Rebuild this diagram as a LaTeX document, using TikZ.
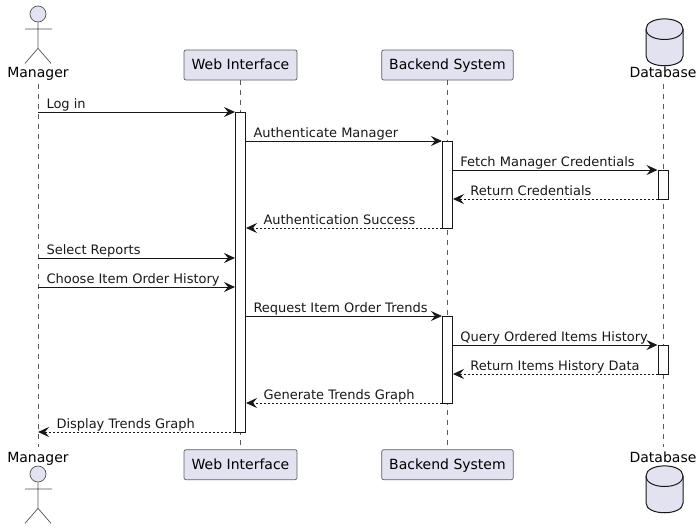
\documentclass[tikz,border=0pt]{standalone}
\usepackage{fontspec}
\setmainfont{DejaVu Sans}
\usepackage{tikz}
\usetikzlibrary{arrows.meta,positioning,calc}
\usepackage{xcolor}
\definecolor{partfill}{RGB}{226, 226, 240}
\definecolor{partline}{RGB}{24, 24, 24}
\definecolor{lifegray}{RGB}{90, 90, 90}

\begin{document}
\begin{tikzpicture}[x=1pt, y=-1pt, >={Stealth[length=11pt, width=10pt, inset=4pt]}]
    \tikzstyle{part} = [draw=partline!70, line width=0.7pt, fill=partfill, rounded corners=2pt, minimum height=30pt, inner sep=0pt, text height=11pt, text depth=2pt, font=\fontsize{14}{16}\selectfont]
    \tikzstyle{who} = [inner sep=0pt, outer sep=4pt, text height=11pt, text depth=3pt, font=\fontsize{14}{16}\selectfont]
    \tikzstyle{life} = [lifegray, line width=0.6pt, dash pattern=on 5pt off 5pt]
    \tikzstyle{bar} = [draw=partline, line width=1pt, fill=white, minimum width=10pt, inner sep=0pt, anchor=north]
    \tikzstyle{call} = [->, partline, line width=1pt]
    \tikzstyle{back} = [->, partline, line width=1pt, dash pattern=on 2pt off 2pt]
    \tikzstyle{msg} = [text=partline, inner sep=0pt, anchor=base west, font=\fontsize{13}{15}\selectfont]
    \tikzstyle{stick} = [partline!75, line width=0.7pt]
    \tikzstyle{can} = [draw=partline, line width=1pt, fill=partfill]

    \useasboundingbox (0,0) rectangle (700,530);

    % top row
    \node [who] (mgr) at (38,73) {Manager};
    \node [part, minimum width=113pt] (web) at (240.5,65) {Web Interface};
    \node [part, minimum width=131.5pt, right=84pt of web] (sys) {Backend System};
    \node [who] (db) at (663,73) {Database};

    % bottom row
    \node [who] (mgrfoot) at (38,458) {Manager};
    \node [part, minimum width=113pt, below=369pt of web] (webfoot) {Web Interface};
    \node [part, minimum width=131.5pt, below=369pt of sys] (sysfoot) {Backend System};
    \node [who] (dbfoot) at (663,458) {Database};

    % rows of the messages
    \coordinate (r1) at (0,112);
    \coordinate (r2) at (0,141);
    \coordinate (r3) at (0,170);
    \coordinate (r4) at (0,199);
    \coordinate (r5) at (0,228);
    \coordinate (r6) at (0,258);
    \coordinate (r7) at (0,287);
    \coordinate (r8) at (0,316);
    \coordinate (r9) at (0,345);
    \coordinate (r10) at (0,374);
    \coordinate (r11) at (0,403);
    \coordinate (r12) at (0,432);

    \draw [life] (mgr.south) -- (mgrfoot.north);
    \draw [life] (web.south) -- (webfoot.north);
    \draw [life] (sys.south) -- (sysfoot.north);
    \draw [life] (db.south) -- (dbfoot.north);

    \node [bar, minimum height=320pt] (webbar) at (web.south |- r1) {};
    \node [bar, minimum height=87pt] (sysbara) at (sys.south |- r2) {};
    \node [bar, minimum height=29pt] (dbbara) at (db.south |- r3) {};
    \node [bar, minimum height=87pt] (sysbarb) at (sys.south |- r8) {};
    \node [bar, minimum height=29pt] (dbbarb) at (db.south |- r9) {};

    % actor and database on top
    \node [draw=partline!75, line width=0.7pt, fill=partfill, circle, minimum size=16pt, inner sep=0pt] (mgrhead) at (38,14) {};
    \draw [stick] (mgrhead.south) -- ++(0,26) -- ++(-13,15) ++(13,-15) -- ++(13,15) (25,29) -- (52,29);
    \draw [can] (646,29) .. controls (646,15.5) and (683,15.5) .. (683,29) -- (683,56) .. controls (683,69) and (646,69) .. (646,56) -- cycle;
    \draw [can, fill=none] (646,29) .. controls (646,43) and (683,43) .. (683,29);

    % actor and database below
    \node [draw=partline!75, line width=0.7pt, fill=partfill, circle, minimum size=16pt, inner sep=0pt] (mgrheadb) at (38,474) {};
    \draw [stick] (mgrheadb.south) -- ++(0,26) -- ++(-13,15) ++(13,-15) -- ++(13,15) (25,489) -- (52,489);
    \draw [can] (646,476) .. controls (646,462.5) and (683,462.5) .. (683,476) -- (683,503) .. controls (683,516) and (646,516) .. (646,503) -- cycle;
    \draw [can, fill=none] (646,476) .. controls (646,490) and (683,490) .. (683,476);

    % messages
    \draw [call] (mgr.south |- r1) -- (webbar.west |- r1) node [msg, pos=0, xshift=8pt, yshift=4pt] {Log in};
    \draw [call] (webbar.east |- r2) -- (sysbara.west |- r2) node [msg, pos=0, xshift=7pt, yshift=4pt] {Authenticate Manager};
    \draw [call] (sysbara.east |- r3) -- (dbbara.west |- r3) node [msg, pos=0, xshift=7pt, yshift=4pt] {Fetch Manager Credentials};
    \draw [back] (dbbara.west |- r4) -- (sysbara.east |- r4) node [msg, pos=1, xshift=17pt, yshift=4pt] {Return Credentials};
    \draw [back] (sysbara.west |- r5) -- (webbar.east |- r5) node [msg, pos=1, xshift=17pt, yshift=4pt] {Authentication Success};
    \draw [call] (mgr.south |- r6) -- (webbar.west |- r6) node [msg, pos=0, xshift=8pt, yshift=4pt] {Select Reports};
    \draw [call] (mgr.south |- r7) -- (webbar.west |- r7) node [msg, pos=0, xshift=8pt, yshift=4pt] {Choose Item Order History};
    \draw [call] (webbar.east |- r8) -- (sysbarb.west |- r8) node [msg, pos=0, xshift=7pt, yshift=4pt] {Request Item Order Trends};
    \draw [call] (sysbarb.east |- r9) -- (dbbarb.west |- r9) node [msg, pos=0, xshift=7pt, yshift=4pt] {Query Ordered Items History};
    \draw [back] (dbbarb.west |- r10) -- (sysbarb.east |- r10) node [msg, pos=1, xshift=17pt, yshift=4pt] {Return Items History Data};
    \draw [back] (sysbarb.west |- r11) -- (webbar.east |- r11) node [msg, pos=1, xshift=17pt, yshift=4pt] {Generate Trends Graph};
    \draw [back] (webbar.west |- r12) -- (mgr.south |- r12) node [msg, pos=1, xshift=18pt, yshift=4pt] {Display Trends Graph};
\end{tikzpicture}
\end{document}
